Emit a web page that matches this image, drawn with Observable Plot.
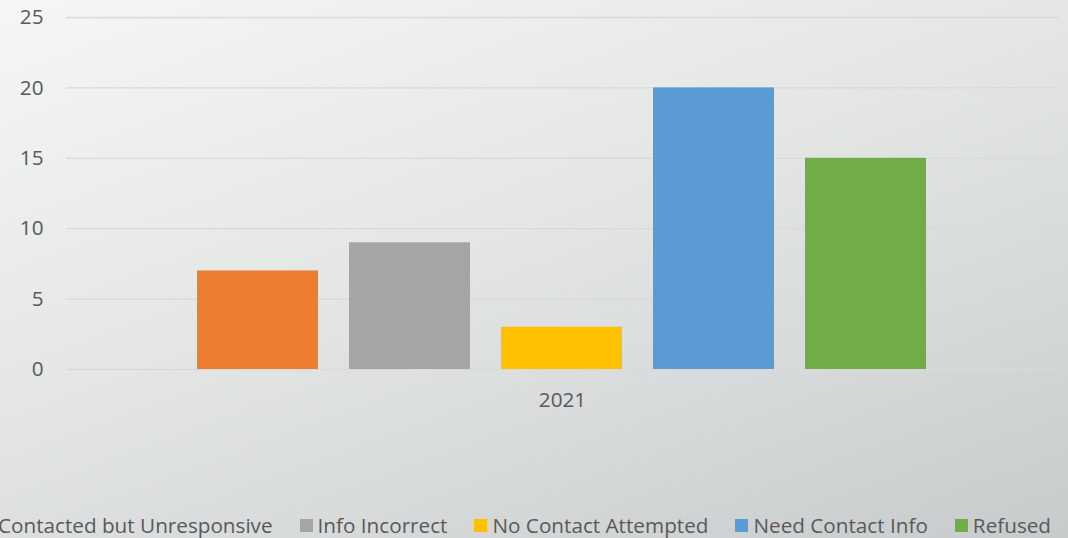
<!DOCTYPE html>
<html>
<head>
<meta charset="utf-8">
<script src="https://cdn.jsdelivr.net/npm/d3@7"></script>
<script src="https://cdn.jsdelivr.net/npm/@observablehq/plot@0.6"></script>
<style>
  html, body { margin: 0; padding: 0; }
  body {
    width: 1068px; height: 538px; overflow: hidden; position: relative;
    background: linear-gradient(160deg, #f5f6f6 0%, #e4e6e6 45%, #c8cbcc 100%);
    font-family: "Open Sans", "Noto Sans", sans-serif;
  }
  #chart svg { background: transparent; display: block; }
  #legend {
    position: absolute; left: -20px; top: 511px; white-space: nowrap;
    font-size: 20.7px; line-height: 28px; color: #595959; display: flex; align-items: center;
  }
  .item { display: flex; align-items: center; margin-right: 27px; }
  .sw { width: 13px; height: 13px; margin-right: 5px; display: inline-block; }
</style>
</head>
<body>
<div id="chart"></div>
<div id="legend"></div>
<script>
const year = "2021";
const categories = ["Contacted but Unresponsive", "Info Incorrect", "No Contact Attempted", "Need Contact Info", "Refused"];
const values = [7, 9, 3, 20, 15];
const colors = ["#ED7D31", "#A5A5A5", "#FFC000", "#5B9BD5", "#70AD47"];
const yTicks = [0, 5, 10, 15, 20, 25];

const data = categories.map((c, i) => ({category: c, value: values[i], year}));

const chart = Plot.plot({
  width: 1068,
  height: 470,
  marginLeft: 66,
  marginRight: 10,
  marginTop: 17,
  marginBottom: 101,
  style: {background: "transparent", fontFamily: "'Open Sans', 'Noto Sans', sans-serif", fontSize: "20.7px", color: "#595959"},
  x: {domain: categories, range: [180.5, 943], paddingInner: 0.2066, paddingOuter: 0.1033, axis: null},
  y: {domain: [0, 25], ticks: yTicks, label: null},
  color: {domain: categories, range: colors},
  marks: [
    Plot.gridY(yTicks, {stroke: "#d9d9d9", strokeOpacity: 1, strokeWidth: 1.3}),
    Plot.axisY(yTicks, {tickSize: 0, tickPadding: 23, fill: "#595959", fontSize: 20.7, label: null}),
    Plot.barY(data, {x: "category", y: "value", fill: "category"}),
    Plot.text([year], {frameAnchor: "bottom", dy: 37, text: d => d, fill: "#595959", fontSize: 20.7})
  ]
});
document.getElementById("chart").appendChild(chart);

const legend = document.getElementById("legend");
categories.forEach((c, i) => {
  const it = document.createElement("div");
  it.className = "item";
  const sw = document.createElement("span");
  sw.className = "sw";
  sw.style.background = colors[i];
  const tx = document.createElement("span");
  tx.textContent = c;
  it.appendChild(sw); it.appendChild(tx);
  legend.appendChild(it);
});
</script>
</body>
</html>
